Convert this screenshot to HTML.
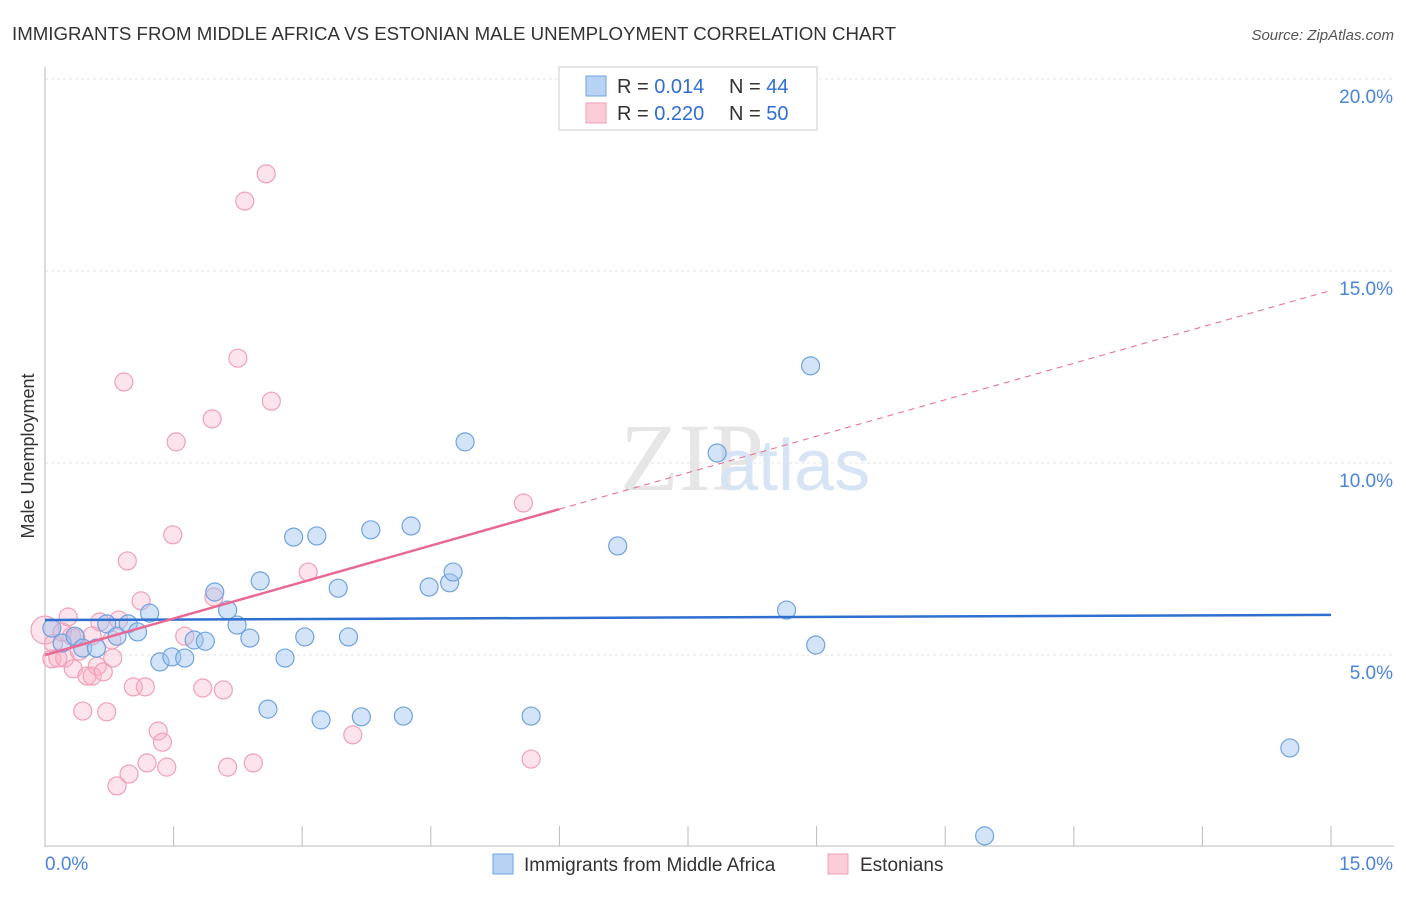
<!DOCTYPE html>
<html><head><meta charset="utf-8"><style>
body{margin:0;background:#fff;font-family:"Liberation Sans",sans-serif;}
</style></head><body>
<svg id="chart" width="1406" height="892" xmlns="http://www.w3.org/2000/svg">
<text x="12" y="40" font-size="18" fill="#333" textLength="884" lengthAdjust="spacingAndGlyphs">IMMIGRANTS FROM MIDDLE AFRICA VS ESTONIAN MALE UNEMPLOYMENT CORRELATION CHART</text>
<text x="1394" y="40" font-size="15" fill="#555" font-style="italic" text-anchor="end">Source: ZipAtlas.com</text>
<text x="620" y="490" font-size="96" fill="#e6e6e6" font-family="Liberation Serif,serif">ZIP</text>
<text x="718" y="490" font-size="72" fill="#d6e4f5">atlas</text>
<text transform="translate(34,456) rotate(-90)" font-size="18" fill="#333" text-anchor="middle">Male Unemployment</text>
<g id="grid"></g><g id="marks"></g>
<g>
<rect x="559" y="67" width="258" height="63" fill="#fff" stroke="#ccc"/>
<rect x="586" y="76" width="20" height="20" fill="#b8d2f4" stroke="#6fa3e0"/>
<text x="617" y="93" font-size="20" fill="#333">R = <tspan fill="#2f6fd0">0.014</tspan></text>
<text x="729" y="93" font-size="20" fill="#333">N = <tspan fill="#2f6fd0">44</tspan></text>
<rect x="586" y="103" width="20" height="20" fill="#fbcdd9" stroke="#f0a0b8"/>
<text x="617" y="120" font-size="20" fill="#333">R = <tspan fill="#2f6fd0">0.220</tspan></text>
<text x="729" y="120" font-size="20" fill="#333">N = <tspan fill="#2f6fd0">50</tspan></text>
</g>
<g>
<rect x="493" y="854" width="20" height="20" fill="#b8d2f4" stroke="#6fa3e0"/>
<text x="524" y="871" font-size="19" fill="#333">Immigrants from Middle Africa</text>
<rect x="828" y="854" width="20" height="20" fill="#fbcdd9" stroke="#f0a0b8"/>
<text x="860" y="871" font-size="19" fill="#333">Estonians</text>
</g>
</svg>
<script>
const yTicks=[5,10,15,20];
const yTickLabels=["5.0%","10.0%","15.0%","20.0%"];
const xTickCount=10;
const blueX=[0.08,0.20,0.35,0.44,0.60,0.72,0.84,0.97,1.08,1.22,1.34,1.48,1.63,1.74,1.87,1.98,2.13,2.24,2.39,2.51,2.60,2.80,2.90,3.03,3.17,3.22,3.42,3.54,3.69,3.80,4.18,4.27,4.48,4.72,4.76,4.90,5.67,6.68,7.84,8.65,8.93,8.99,10.96,14.52];
const blueY=[5.70,5.31,5.49,5.18,5.18,5.81,5.49,5.81,5.60,6.09,4.82,4.95,4.92,5.39,5.36,6.64,6.17,5.78,5.44,6.93,3.59,4.92,8.07,5.47,8.10,3.31,6.74,5.47,3.39,8.26,3.41,8.36,6.77,6.88,7.16,10.55,3.41,7.84,10.26,6.17,12.53,5.26,0.29,2.58];
const pinkX=[0,0.08,0.15,0.23,0.27,0.31,0.36,0.33,0.44,0.49,0.55,0.61,0.64,0.68,0.72,0.78,0.79,0.84,0.86,0.92,0.96,0.98,1.03,1.12,1.17,1.19,1.32,1.37,1.42,1.49,1.53,1.63,1.84,1.95,1.97,2.08,2.13,2.25,2.33,2.43,2.58,2.64,3.07,3.59,5.58,5.67,0.10,0.20,0.40,0.55];
const pinkY=[5.65,4.90,4.92,4.92,5.99,5.49,5.44,4.64,3.54,4.45,4.45,4.71,5.86,4.56,3.52,5.39,4.92,1.59,5.91,12.11,7.45,1.90,4.17,6.41,4.17,2.19,3.02,2.73,2.08,8.13,10.55,5.49,4.14,11.15,6.51,4.09,2.08,12.73,16.82,2.19,17.53,11.61,7.16,2.92,8.96,2.29,5.3,5.6,5.1,5.5];
const blueFit=[5.91,0.009];
const pinkFit=[5.0,0.633];
const X=v=>45+v/15*1286, Y=v=>847-v/5*192;
const NS="http://www.w3.org/2000/svg";
const grid=document.getElementById('grid'), marks=document.getElementById('marks');
function mk(tag,attrs,parent){const e=document.createElementNS(NS,tag);for(const k in attrs)e.setAttribute(k,attrs[k]);parent.appendChild(e);return e;}
yTicks.forEach((t,i)=>{
 const l=mk('line',{x1:45,x2:1394,y1:Y(t),y2:Y(t),stroke:'#e4e4e4','stroke-dasharray':'3,3'},grid);
 
 
 const tx=mk('text',{x:1393,y:Y(t)+24,'font-size':19,fill:'#4a84dc','text-anchor':'end'},grid);
 tx.textContent=yTickLabels[i];
 
 
});
const ax=mk('line',{x1:45,x2:45,y1:67,y2:847,stroke:'#bbb'},grid);

const bx=mk('line',{x1:45,x2:1394,y1:846,y2:846,stroke:'#bbb'},grid);

for(let i=1;i<=xTickCount;i++){const v=15*i/xTickCount;
 const t=mk('line',{x1:X(v),x2:X(v),y1:826,y2:846,stroke:'#bbb'},grid);
 }
const xl=mk('text',{x:45,y:870,'font-size':19,fill:'#4a84dc'},grid);xl.textContent='0.0%';

const xr=mk('text',{x:1393,y:870,'font-size':19,fill:'#4a84dc','text-anchor':'end'},grid);xr.textContent='15.0%';

pinkX.forEach((x,i)=>{const c=mk('circle',{cx:X(x),cy:Y(pinkY[i]),r:i==0?14:9,fill:'rgba(248,175,198,0.35)',stroke:'#f0a0b8','stroke-width':1.2},marks);
 });
blueX.forEach((x,i)=>{const c=mk('circle',{cx:X(x),cy:Y(blueY[i]),r:9,fill:'rgba(160,196,240,0.45)',stroke:'#6fa3e0','stroke-width':1.2},marks);
 });
const bl=mk('line',{x1:X(0),y1:Y(blueFit[0]),x2:X(15),y2:Y(blueFit[0]+blueFit[1]*15),stroke:'#2f6fd0','stroke-width':2.5},marks);

const pl=mk('line',{x1:X(0),y1:Y(pinkFit[0]),x2:X(6),y2:Y(pinkFit[0]+pinkFit[1]*6),stroke:'#e86a94','stroke-width':2.5},marks);

const pd=mk('line',{x1:X(6),y1:Y(pinkFit[0]+pinkFit[1]*6),x2:X(15),y2:Y(pinkFit[0]+pinkFit[1]*15),stroke:'#e86a94','stroke-width':1,'stroke-dasharray':'6,5'},marks);

</script>
</body></html>
